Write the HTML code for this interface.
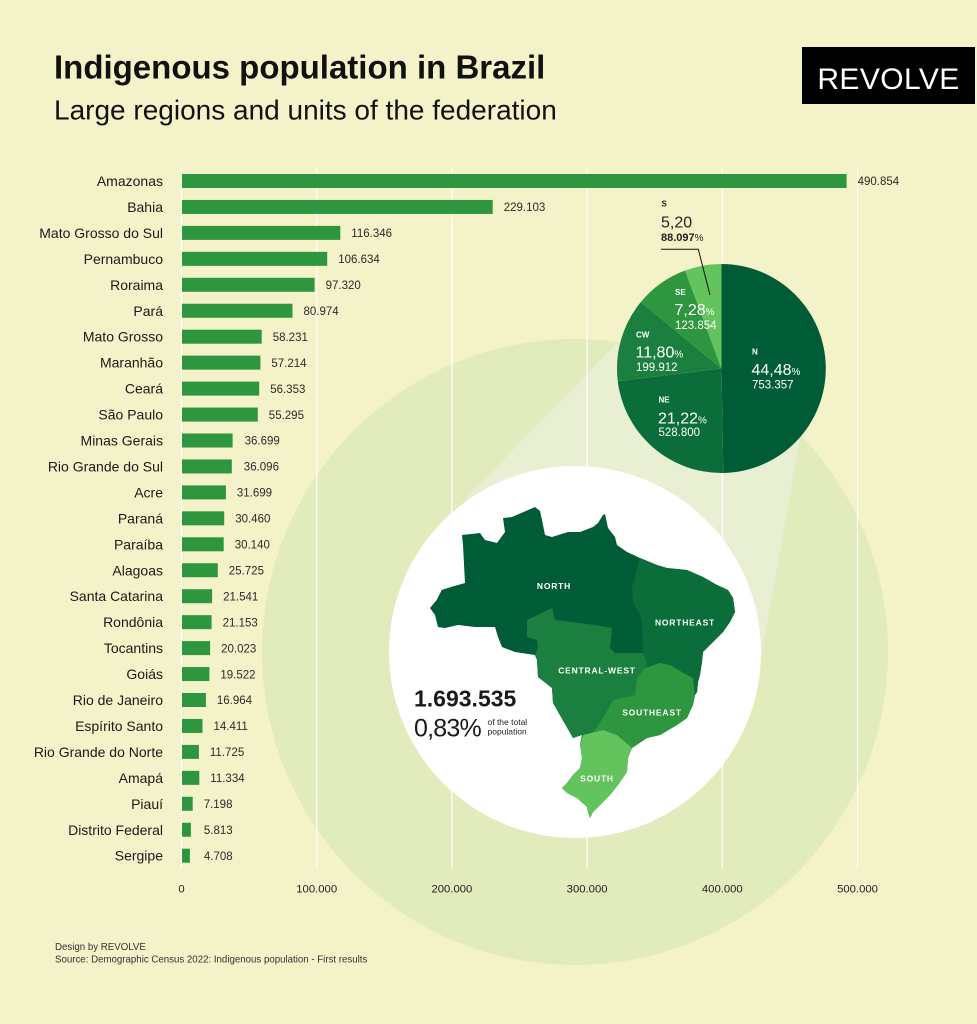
<!DOCTYPE html>
<html><head><meta charset="utf-8"><style>
html,body{margin:0;padding:0;background:#f4f2c8;}
svg{display:block;}
text{font-family:"Liberation Sans",Arial,sans-serif;}
</style></head><body>
<svg width="977" height="1024" viewBox="0 0 977 1024" xmlns="http://www.w3.org/2000/svg">
<rect x="0" y="0" width="977" height="1024" fill="#f4f2c8"/>

<!-- big pale circle + beam -->
<circle cx="575" cy="652" r="313" fill="#e1ebbc"/>
<polygon points="630,330 466,498 575,652 757,680 808,395 721.5,368.5" fill="#e9efd2"/>

<!-- gridlines -->
<g stroke="#ffffff" stroke-width="1.3" opacity="0.9">
<line x1="181.5" y1="168" x2="181.5" y2="869"/>
<line x1="316.7" y1="168" x2="316.7" y2="869"/>
<line x1="451.9" y1="168" x2="451.9" y2="869"/>
<line x1="587.1" y1="168" x2="587.1" y2="869"/>
<line x1="722.3" y1="168" x2="722.3" y2="869"/>
<line x1="857.5" y1="168" x2="857.5" y2="869"/>
</g>

<!-- white circle -->
<circle cx="575" cy="652" r="186" fill="#ffffff"/>

<!-- title -->
<text x="54" y="78.3" font-size="33" font-weight="bold" fill="#111">Indigenous population in Brazil</text>
<text x="54" y="119.3" font-size="28" fill="#111">Large regions and units of the federation</text>
<rect x="802" y="47" width="173" height="57" fill="#000"/>
<text x="888.5" y="89" font-size="30" fill="#fff" text-anchor="middle" letter-spacing="0.4">REVOLVE</text>

<!-- bars -->
<g fill="#2e963e">
<rect x="182" y="174" width="664.6" height="14"/>
<rect x="182" y="199.95" width="310.7" height="14"/>
<rect x="182" y="225.9" width="158.3" height="14"/>
<rect x="182" y="251.85" width="145.2" height="14"/>
<rect x="182" y="277.8" width="132.6" height="14"/>
<rect x="182" y="303.75" width="110.5" height="14"/>
<rect x="182" y="329.7" width="79.7" height="14"/>
<rect x="182" y="355.65" width="78.4" height="14"/>
<rect x="182" y="381.6" width="77.2" height="14"/>
<rect x="182" y="407.55" width="75.8" height="14"/>
<rect x="182" y="433.5" width="50.6" height="14"/>
<rect x="182" y="459.45" width="49.8" height="14"/>
<rect x="182" y="485.4" width="43.9" height="14"/>
<rect x="182" y="511.35" width="42.2" height="14"/>
<rect x="182" y="537.3" width="41.7" height="14"/>
<rect x="182" y="563.25" width="35.8" height="14"/>
<rect x="182" y="589.2" width="30.1" height="14"/>
<rect x="182" y="615.15" width="29.6" height="14"/>
<rect x="182" y="641.1" width="28.1" height="14"/>
<rect x="182" y="667.05" width="27.4" height="14"/>
<rect x="182" y="693" width="23.9" height="14"/>
<rect x="182" y="718.95" width="20.5" height="14"/>
<rect x="182" y="744.9" width="16.9" height="14"/>
<rect x="182" y="770.85" width="17.3" height="14"/>
<rect x="182" y="796.8" width="10.7" height="14"/>
<rect x="182" y="822.75" width="8.9" height="14"/>
<rect x="182" y="848.7" width="7.9" height="14"/>
</g>

<!-- category labels -->
<g font-size="14" fill="#1a1a1a" text-anchor="end">
<text x="163" y="186">Amazonas</text>
<text x="163" y="211.95">Bahia</text>
<text x="163" y="237.9">Mato Grosso do Sul</text>
<text x="163" y="263.85">Pernambuco</text>
<text x="163" y="289.8">Roraima</text>
<text x="163" y="315.75">Pará</text>
<text x="163" y="341.7">Mato Grosso</text>
<text x="163" y="367.65">Maranhão</text>
<text x="163" y="393.6">Ceará</text>
<text x="163" y="419.55">São Paulo</text>
<text x="163" y="445.5">Minas Gerais</text>
<text x="163" y="471.45">Rio Grande do Sul</text>
<text x="163" y="497.4">Acre</text>
<text x="163" y="523.35">Paraná</text>
<text x="163" y="549.3">Paraíba</text>
<text x="163" y="575.25">Alagoas</text>
<text x="163" y="601.2">Santa Catarina</text>
<text x="163" y="627.15">Rondônia</text>
<text x="163" y="653.1">Tocantins</text>
<text x="163" y="679.05">Goiás</text>
<text x="163" y="705">Rio de Janeiro</text>
<text x="163" y="730.95">Espírito Santo</text>
<text x="163" y="756.9">Rio Grande do Norte</text>
<text x="163" y="782.85">Amapá</text>
<text x="163" y="808.8">Piauí</text>
<text x="163" y="834.75">Distrito Federal</text>
<text x="163" y="860.7">Sergipe</text>
</g>

<!-- value labels -->
<g font-size="11.5" fill="#2a2a2a">
<text x="857.6" y="185.2">490.854</text>
<text x="503.7" y="211.15">229.103</text>
<text x="351.3" y="237.1">116.346</text>
<text x="338.2" y="263.05">106.634</text>
<text x="325.6" y="289">97.320</text>
<text x="303.5" y="314.95">80.974</text>
<text x="272.7" y="340.9">58.231</text>
<text x="271.4" y="366.85">57.214</text>
<text x="270.2" y="392.8">56.353</text>
<text x="268.8" y="418.75">55.295</text>
<text x="244.6" y="444.7">36.699</text>
<text x="243.8" y="470.65">36.096</text>
<text x="236.9" y="496.6">31.699</text>
<text x="235.2" y="522.55">30.460</text>
<text x="234.7" y="548.5">30.140</text>
<text x="228.8" y="574.45">25.725</text>
<text x="223.1" y="600.4">21.541</text>
<text x="222.6" y="626.35">21.153</text>
<text x="221.1" y="652.3">20.023</text>
<text x="220.4" y="678.25">19.522</text>
<text x="216.9" y="704.2">16.964</text>
<text x="213.5" y="730.15">14.411</text>
<text x="209.9" y="756.1">11.725</text>
<text x="210.3" y="782.05">11.334</text>
<text x="203.7" y="808">7.198</text>
<text x="203.9" y="833.95">5.813</text>
<text x="203.9" y="859.9">4.708</text>
</g>

<!-- axis tick labels -->
<g font-size="11.3" fill="#222" text-anchor="middle">
<text x="181.5" y="892.7">0</text>
<text x="316.7" y="892.7">100.000</text>
<text x="451.9" y="892.7">200.000</text>
<text x="587.1" y="892.7">300.000</text>
<text x="722.3" y="892.7">400.000</text>
<text x="857.5" y="892.7">500.000</text>
</g>

<!-- pie -->
<path d="M721.5,368.5 L721.5,264 A104.5,104.5 0 0 1 723.32,472.98 Z" fill="#005c36"/>
<path d="M721.5,368.5 L723.32,472.98 A104.5,104.5 0 0 1 617.78,381.24 Z" fill="#0b6e3a"/>
<path d="M721.5,368.5 L617.78,381.24 A104.5,104.5 0 0 1 640.87,302.03 Z" fill="#1b803f"/>
<path d="M721.5,368.5 L640.87,302.03 A104.5,104.5 0 0 1 685.07,270.55 Z" fill="#2e963f"/>
<path d="M721.5,368.5 L685.07,270.55 A104.5,104.5 0 0 1 721.5,264 Z" fill="#63c35c"/>

<!-- leader -->
<polyline points="661,249.3 698.3,249.3 710,295" fill="none" stroke="#111" stroke-width="1"/>

<!-- pie labels -->
<g fill="#222">
<text x="661.5" y="206.7" font-size="8" font-weight="bold">S</text>
<text x="661" y="227.3" font-size="16">5,20</text>
<text x="661" y="241" font-size="11" font-weight="bold">88.097<tspan font-weight="normal" font-size="10">%</tspan></text>
</g>
<g fill="#ffffff">
<text x="675" y="295" font-size="8" font-weight="bold">SE</text>
<text x="674.5" y="315" font-size="16">7,28<tspan font-size="10">%</tspan></text>
<text x="675" y="329" font-size="11.5">123.854</text>
<text x="636" y="337.3" font-size="8" font-weight="bold">CW</text>
<text x="635.5" y="357.7" font-size="16">11,80<tspan font-size="10">%</tspan></text>
<text x="636" y="371" font-size="11.5">199.912</text>
<text x="752" y="354.5" font-size="8" font-weight="bold">N</text>
<text x="751.5" y="375" font-size="16">44,48<tspan font-size="10">%</tspan></text>
<text x="752" y="388.3" font-size="11.5">753.357</text>
<text x="658.5" y="402.7" font-size="8" font-weight="bold">NE</text>
<text x="658" y="423.3" font-size="16">21,22<tspan font-size="10">%</tspan></text>
<text x="658.5" y="436" font-size="11.5">528.800</text>
</g>

<!-- map -->
<polygon fill="#005c36" points="430,608 436.7,600 441.7,590 451.7,586.7 465,583 463,545 462,535 480,533 485,540 497,543 505,532 503,518 512,517 535,507 540,511 542,520 545,535 552,537 568,532 580,532 593,527 598,523 603,515 605,514 608,528 615,537 617,545 627,552 640,558 657,565 667,568 687,570 703,577 717,585 728,590 733,598 735,612 730,622 723,632 713,642 703,652 702,662 700,675 698,682 697,692 695,695 693,705 687,718 677,725 660,735 647,738 632,748 628,758 627,772 618,785 610,795 600,805 593,812 590,818 588,812 587,807 577,798 567,793 562,788 567,783 573,775 580,768 582,758 580,745 582,735 573,738 553,703 552,688 538,677 537,660 535,655 515,652 502,647 498,637 495,627 475,627 458,625 445,628 438,627 435,615"/>
<polygon fill="#1b803f" points="527,620 552,608 555,620 595,625 612,628 610,648 615,653 643,653 647,662 645,668 637,678 635,695 613,700 603,718 593,732 582,735 573,738 553,703 552,688 538,677 537,660 535,655 538,647 537,640 527,637"/>
<polygon fill="#0b6e3a" points="640,558 657,565 667,568 687,570 703,577 717,585 728,590 733,598 735,612 730,622 723,632 713,642 703,652 702,662 700,675 698,682 697,692 695,695 693,678 687,675 670,665 660,663 645,668 647,662 643,653 642,625 640,615 633,602 632,588"/>
<polygon fill="#2e963f" points="645,668 660,663 670,665 687,675 693,678 695,695 693,705 687,718 677,725 660,735 647,738 632,748 617,735 603,730 583,735 593,732 603,718 613,700 635,695 637,678"/>
<polygon fill="#63c35c" points="583,735 603,730 617,735 632,748 628,758 627,772 618,785 610,795 600,805 593,812 590,818 588,812 587,807 577,798 567,793 562,788 567,783 573,775 580,768 582,758 580,745"/>

<g fill="#ffffff" font-size="8.5" font-weight="bold" letter-spacing="0.8" text-anchor="middle">
<text x="554" y="589">NORTH</text>
<text x="685" y="625.3">NORTHEAST</text>
<text x="597" y="673.6">CENTRAL-WEST</text>
<text x="652" y="715.6">SOUTHEAST</text>
<text x="597" y="781.6">SOUTH</text>
</g>

<text x="414" y="706.7" font-size="23" font-weight="bold" fill="#1a1a1a">1.693.535</text>
<text x="414" y="736.7" font-size="25" fill="#1a1a1a" letter-spacing="-0.8">0,83%</text>
<text x="487.5" y="725" font-size="8.5" fill="#222">of the total</text>
<text x="487.5" y="734.5" font-size="8.5" fill="#222">population</text>

<!-- footer -->
<text x="55" y="950" font-size="9.7" fill="#333">Design by REVOLVE</text>
<text x="55" y="962.5" font-size="9.7" fill="#333">Source: Demographic Census 2022: Indigenous population - First results</text>
</svg>
</body></html>
